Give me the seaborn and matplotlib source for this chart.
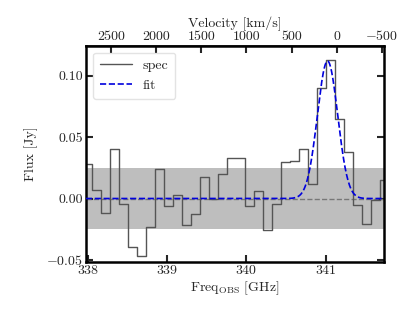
import numpy as np
import pandas as pd
import matplotlib
matplotlib.use("Agg")
import matplotlib.pyplot as plt
import seaborn as sns

# channel centre frequencies [GHz] and flux [Jy]
freq = [337.993, 338.107, 338.221, 338.334, 338.448, 338.562, 338.675, 338.789,
        338.903, 339.016, 339.130, 339.244, 339.357, 339.471, 339.585, 339.699,
        339.812, 339.926, 340.040, 340.153, 340.267, 340.381, 340.494, 340.608,
        340.722, 340.835, 340.949, 341.063, 341.176, 341.290, 341.404, 341.517,
        341.631, 341.745]
flux = [0.0285, 0.0073, -0.0114, 0.0405, -0.0041, -0.0394, -0.0467, -0.0228,
        0.0239, -0.0060, 0.0030, -0.0215, -0.0122, 0.0174, -0.0003, 0.0196,
        0.0329, 0.0329, -0.0060, 0.0065, -0.0258, -0.0041, 0.0296, 0.0304,
        0.0402, 0.0117, 0.0899, 0.1130, 0.0644, 0.0378, -0.0052, -0.0207,
        -0.0016, 0.0147]
# gaussian fit parameters
fit_amp = 0.112
fit_center = 341.025
fit_sigma = 0.128
rms = 0.0245
f0 = 341.14  # GHz, velocity zero
c_kms = 299792.458
vel_ticks = [2500, 2000, 1500, 1000, 500, 0, -500]
freq_ticks = [338, 339, 340, 341]
y_ticks = [-0.05, 0.00, 0.05, 0.10]

sns.set_theme(style="ticks")
plt.rcParams.update({
    "font.family": "serif",
    "font.serif": ["cmr10"],
    "mathtext.fontset": "cm",
    "axes.formatter.use_mathtext": True,
    "font.size": 10,
    "axes.labelsize": 10,
    "xtick.labelsize": 10,
    "ytick.labelsize": 10,
    "legend.fontsize": 10,
    "axes.unicode_minus": True,
})

fig = plt.figure(figsize=(4.15, 3.11), dpi=100)
ax = fig.add_axes([0.207, 0.158, 0.718, 0.695])

xlim = (337.979, 341.735)
ax.axhspan(-rms, rms, color="#bebebe", zorder=0, lw=0)
ax.axhline(0, ls="--", color="#777777", lw=1, zorder=1)

df = pd.DataFrame({"freq": freq, "flux": flux})
sns.lineplot(data=df, x="freq", y="flux", ax=ax, drawstyle="steps-mid",
             color="#555555", lw=1.0, estimator=None, label="spec", zorder=2)

xf = np.linspace(xlim[0], xlim[1], 600)
yf = fit_amp * np.exp(-0.5 * ((xf - fit_center) / fit_sigma) ** 2)
fdf = pd.DataFrame({"freq": xf, "flux": yf})
sns.lineplot(data=fdf, x="freq", y="flux", ax=ax, color="#0000dd", ls="--",
             lw=1.2, estimator=None, label="fit", zorder=3)

ax.set_xlim(*xlim)
ax.set_ylim(-0.0516, 0.1245)
ax.set_xticks(freq_ticks)
ax.set_xticklabels([str(t) for t in freq_ticks])
ax.set_yticks(y_ticks)
ax.set_yticklabels([r"$-0.05$", "0.00", "0.05", "0.10"])
ax.set_xlabel(r"Freq$_{\rm OBS}$ [GHz]", labelpad=2)
ax.set_ylabel("Flux [Jy]", labelpad=6)
ax.tick_params(direction="in", length=5, width=1.5, right=True, top=False,
               labelsize=10, pad=2)
for s in ax.spines.values():
    s.set_linewidth(1.8)
    s.set_color("black")

sec = ax.secondary_xaxis("top",
                         functions=(lambda f: c_kms * (1 - f / f0),
                                    lambda v: f0 * (1 - v / c_kms)))
sec.set_xticks(vel_ticks)
sec.set_xticklabels([r"$-500$" if v < 0 else str(v) for v in vel_ticks])
sec.tick_params(direction="in", length=5, width=1.5, labelsize=10, pad=2)
sec.set_xlabel("Velocity [km/s]", labelpad=1)

leg = ax.legend(loc="upper left", fontsize=10, frameon=True, fancybox=True,
                handlelength=2.3, borderpad=0.5)
leg.get_frame().set_edgecolor("#dddddd")

fig.savefig("out.png", dpi=100)
